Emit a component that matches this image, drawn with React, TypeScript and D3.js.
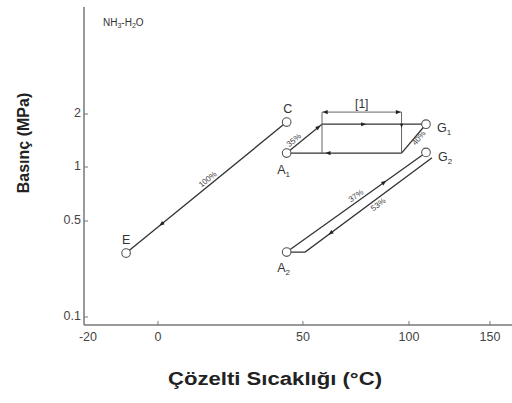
import React from "react";
import * as d3 from "d3";

// ---- data ----
const T_TICKS = [-20, 0, 50, 100, 150];
const P_TICKS = [0.1, 0.5, 1, 2];

// state points: name, temperature (°C), pressure (MPa)
const STATE_NAMES = ["C", "E", "A1", "G1", "G2", "A2"];
const STATE_T = [43.5, -9, 43.5, 109.5, 109.5, 43.5];
const STATE_P = [1.8, 0.292, 1.2, 1.75, 1.21, 0.297];

// process lines [T, P]
const LINE_EC: [number, number][] = [[-9, 0.292], [43.5, 1.8]];
const LINE_A1_TL: [number, number][] = [[43.5, 1.2], [58, 1.75]];
const LINE_TOP: [number, number][] = [[58, 1.75], [109.5, 1.75]];
const LINE_G1_BR: [number, number][] = [[109.5, 1.75], [96, 1.2]];
const LINE_BOTTOM: [number, number][] = [[96, 1.2], [43.5, 1.2]];
const LINE_VL: [number, number][] = [[58, 1.2], [58, 2.05]];
const LINE_VR: [number, number][] = [[96, 1.2], [96, 2.05]];
const LINE_DIM: [number, number][] = [[58, 2.05], [96, 2.05]];
const LINE_37: [number, number][] = [[43.5, 0.297], [109.5, 1.21]];
const LINE_53_TURN: [number, number] = [50.9, 0.297];
const LINE_53_END: [number, number] = [113, 1.13];
const LINE_53: [number, number][] = [[43.5, 0.297], LINE_53_TURN, LINE_53_END];

const W = 512;
const H = 403;

const toU = (t: number) => -1000 / (t + 273.15);
const xU = d3.scaleLinear().domain([toU(-20), toU(166)]).range([84, 512]);
const x = (t: number) => xU(toU(t));
const yL = d3
  .scaleLinear()
  .domain([Math.log10(0.087), -1, Math.log10(0.5), 0, Math.log10(2), Math.log10(8)])
  .range([325, 317, 221, 167, 114, 7]);
const y = (p: number) => yL(Math.log10(p));

const line = d3
  .line<[number, number]>()
  .x((d) => x(d[0]))
  .y((d) => y(d[1]));

const STROKE = "#333";

function Arrow({ pts, frac, dir = 1, size = 5 }: { pts: [number, number][]; frac: number; dir?: number; size?: number }) {
  const [a, b] = [pts[0], pts[pts.length - 1]];
  const x1 = x(a[0]), y1 = y(a[1]), x2 = x(b[0]), y2 = y(b[1]);
  const px = x1 + (x2 - x1) * frac;
  const py = y1 + (y2 - y1) * frac;
  let ang = (Math.atan2(y2 - y1, x2 - x1) * 180) / Math.PI;
  if (dir < 0) ang += 180;
  return (
    <path
      d={`M${size / 2},0 L${-size / 2},${-size / 2.4} L${-size / 2},${size / 2.4} Z`}
      fill="#222"
      transform={`translate(${px},${py}) rotate(${ang})`}
    />
  );
}

function SlopeLabel({ pts, frac, text, off }: { pts: [number, number][]; frac: number; text: string; off: number }) {
  const [a, b] = [pts[0], pts[pts.length - 1]];
  const x1 = x(a[0]), y1 = y(a[1]), x2 = x(b[0]), y2 = y(b[1]);
  const ang = Math.atan2(y2 - y1, x2 - x1);
  const px = x1 + (x2 - x1) * frac + Math.sin(ang) * off;
  const py = y1 + (y2 - y1) * frac - Math.cos(ang) * off;
  return (
    <text
      x={0}
      y={0}
      transform={`translate(${px},${py}) rotate(${(ang * 180) / Math.PI})`}
      fontSize={8}
      fill="#444"
      textAnchor="middle"
      dominantBaseline="middle"
      fontFamily="Liberation Sans, Arial, sans-serif"
    >
      {text}
    </text>
  );
}

function Label({ name, t, p, dx, dy }: { name: string; t: number; p: number; dx: number; dy: number }) {
  const base = name[0];
  const sub = name.slice(1);
  return (
    <text
      x={x(t) + dx}
      y={y(p) + dy}
      fontSize={12.5}
      fill="#333"
      textAnchor="middle"
      fontFamily="Liberation Sans, Arial, sans-serif"
    >
      {base}
      {sub && (
        <tspan fontSize={8} dy={3}>
          {sub}
        </tspan>
      )}
    </text>
  );
}

const LABEL_OFFSETS: Record<string, [number, number]> = {
  C: [1, -9],
  E: [0, -9],
  A1: [-3, 21],
  G1: [18, 8],
  G2: [19, 9],
  A2: [-3, 20],
};

export default function App() {
  const axisColor = "#777";
  const font = "Liberation Sans, Arial, sans-serif";
  return (
    <svg
      width={W}
      height={H}
      style={{ position: "absolute", left: 0, top: 0, background: "#fff" }}
    >
      {/* axes */}
      <line x1={84} x2={84} y1={yL.range()[5]} y2={325} stroke={axisColor} strokeWidth={1.5} />
      <line x1={84} x2={W} y1={325} y2={325} stroke={axisColor} strokeWidth={1.5} />
      {P_TICKS.map((p) => (
        <g key={p}>
          <line x1={84} x2={88} y1={y(p)} y2={y(p)} stroke={axisColor} />
          <text
            x={81}
            y={y(p)}
            textAnchor="end"
            dominantBaseline="middle"
            fontSize={12.5}
            fill="#444"
            fontFamily={font}
          >
            {p}
          </text>
        </g>
      ))}
      {T_TICKS.map((t) => (
        <g key={t}>
          {t !== -20 && <line x1={x(t)} x2={x(t)} y1={325} y2={321} stroke={axisColor} />}
          <text
            x={x(t) + (t === -20 ? 4 : 0)}
            y={341}
            textAnchor="middle"
            fontSize={12.5}
            fill="#444"
            fontFamily={font}
          >
            {t}
          </text>
        </g>
      ))}

      {/* axis titles */}
      <text
        transform={`translate(29,143) rotate(-90)`}
        textAnchor="middle"
        fontSize={16}
        fontWeight="bold"
        fill="#222"
        fontFamily={font}
      >
        Basınç (MPa)
      </text>
      <text
        x={168}
        y={385}
        fontSize={18}
        fontWeight="bold"
        fill="#222"
        fontFamily={font}
        textLength={214}
        lengthAdjust="spacingAndGlyphs"
      >
        Çözelti Sıcaklığı (°C)
      </text>

      {/* NH3-H2O */}
      <text x={103} y={26} fontSize={10} fill="#333" fontFamily={font}>
        NH<tspan fontSize={7} dy={2}>3</tspan>
        <tspan dy={-2}>-H</tspan>
        <tspan fontSize={7} dy={2}>2</tspan>
        <tspan dy={-2}>O</tspan>
      </text>

      {/* process lines */}
      {[LINE_EC, LINE_A1_TL, LINE_TOP, LINE_G1_BR, LINE_BOTTOM, LINE_37, LINE_53].map((l, i) => (
        <path key={i} d={line(l) || ""} fill="none" stroke={STROKE} strokeWidth={1.3} />
      ))}
      {[LINE_VL, LINE_VR, LINE_DIM].map((l, i) => (
        <path key={"v" + i} d={line(l) || ""} fill="none" stroke="#555" strokeWidth={0.9} />
      ))}
      {/* dimension arrows */}
      <Arrow pts={LINE_DIM} frac={0.04} dir={-1} size={5} />
      <Arrow pts={LINE_DIM} frac={0.96} dir={1} size={5} />
      <text
        x={(x(58) + x(96)) / 2}
        y={y(2.05) - 4}
        textAnchor="middle"
        fontSize={12}
        fill="#333"
        fontFamily={font}
      >
        [1]
      </text>

      {/* arrows on lines */}
      <Arrow pts={LINE_EC} frac={0.22} dir={-1} />
      <Arrow pts={LINE_A1_TL} frac={0.9} dir={1} />
      <Arrow pts={LINE_TOP} frac={0.4} dir={1} />
      <Arrow pts={LINE_BOTTOM} frac={0.64} dir={1} />
      <Arrow pts={LINE_37} frac={0.7} dir={1} />
      <Arrow pts={[LINE_53_TURN, LINE_53_END]} frac={0.2} dir={-1} />
      <Arrow pts={[[96, 1.75], [96, 1.2]]} frac={0.05} dir={1} size={4} />

      {/* slope labels */}
      <SlopeLabel pts={LINE_EC} frac={0.53} text="100%" off={5} />
      <SlopeLabel pts={LINE_A1_TL} frac={0.3} text="35%" off={5} />
      <SlopeLabel pts={[[96, 1.2], [109.5, 1.75]]} frac={0.6} text="40%" off={-4} />
      <SlopeLabel pts={LINE_37} frac={0.52} text="37%" off={5} />
      <SlopeLabel pts={[LINE_53_TURN, LINE_53_END]} frac={0.55} text="53%" off={-6} />

      {/* state points */}
      {STATE_NAMES.map((n, i) => (
        <g key={n}>
          <circle cx={x(STATE_T[i])} cy={y(STATE_P[i])} r={4.3} fill="#fff" stroke="#555" strokeWidth={1.1} />
          <Label name={n} t={STATE_T[i]} p={STATE_P[i]} dx={LABEL_OFFSETS[n][0]} dy={LABEL_OFFSETS[n][1]} />
        </g>
      ))}
    </svg>
  );
}
